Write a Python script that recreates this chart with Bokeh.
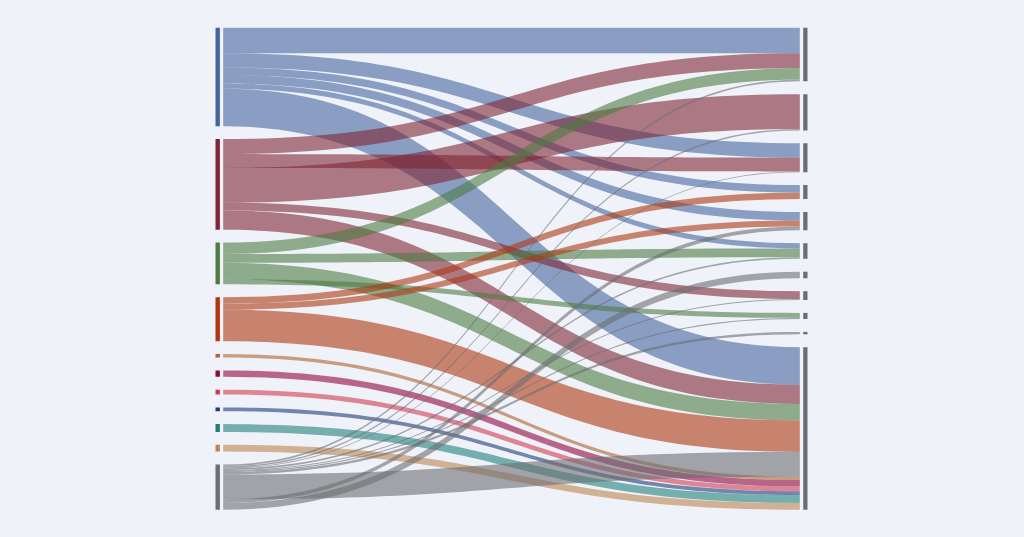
import numpy as np
from bokeh.models import ColumnDataSource, Range1d
from bokeh.plotting import figure
from bokeh.embed import file_html
from bokeh.resources import INLINE

# source nodes (left column), top to bottom
sources = ["s1", "s2", "s3", "s4", "s5", "s6", "s7", "s8", "s9", "s10", "s11"]
source_colors = ["#45669d", "#7e2634", "#4d7c42", "#ad3812", "#ad6230", "#93073f",
                 "#d03a52", "#203c78", "#22807a", "#bd8550", "#6d6e72"]
# target nodes (right column), top to bottom
targets = ["t1", "t2", "t3", "t4", "t5", "t6", "t7", "t8", "t9", "t10", "t11"]

# links, in the order they leave each source node
link_src = ["s1", "s1", "s1", "s1", "s1", "s1",
            "s2", "s2", "s2", "s2", "s2",
            "s3", "s3", "s3", "s3",
            "s4", "s4", "s4",
            "s5", "s6", "s7", "s8", "s9", "s10",
            "s11", "s11", "s11", "s11", "s11", "s11", "s11", "s11", "s11", "s11"]
link_tgt = ["t1", "t3", "t4", "t5", "t6", "t11",
            "t1", "t3", "t2", "t8", "t11",
            "t1", "t6", "t11", "t9",
            "t4", "t5", "t11",
            "t11", "t11", "t11", "t11", "t11", "t11",
            "t1", "t2", "t3", "t6", "t8", "t9", "t10", "t11", "t5", "t7"]
link_val = [25.4, 14.3, 7.5, 8.5, 5.2, 37.5,
            15.0, 13.8, 34.8, 7.8, 19.2,
            11.4, 8.8, 16.5, 5.0,
            6.5, 6.0, 31.5,
            3.4, 6.4, 4.8, 3.8, 7.8, 6.8,
            1.7, 1.4, 0.8, 1.6, 1.0, 1.1, 2.4, 24.8, 3.8, 6.6]
# order in which incoming links stack on each target node
arrival_order = ["s1", "s2", "s3", "s4", "s11", "s5", "s6", "s7", "s8", "s9", "s10"]

W, H = 1008, 521
pad = 12.9
top = 27.3
x_left_bar = (215.0, 219.4)
x_right_bar = (802.7, 807.0)
x0, x1 = 222.7, 799.3

def stack(names, totals):
    pos, y = {}, 0.0
    for n in names:
        pos[n] = y
        y += totals[n] + pad
    return pos

src_tot = {n: 0.0 for n in sources}
tgt_tot = {n: 0.0 for n in targets}
for s, t, v in zip(link_src, link_tgt, link_val):
    src_tot[s] += v
    tgt_tot[t] += v
src_pos = stack(sources, src_tot)
tgt_pos = stack(targets, tgt_tot)

# offsets at source: list order
src_off = dict(src_pos)
y_start = []
for s, v in zip(link_src, link_val):
    y_start.append(src_off[s])
    src_off[s] += v
# offsets at target: arrival order
y_end = [0.0] * len(link_val)
tgt_off = dict(tgt_pos)
idx = sorted(range(len(link_val)), key=lambda i: arrival_order.index(link_src[i]))
for i in idx:
    y_end[i] = tgt_off[link_tgt[i]]
    tgt_off[link_tgt[i]] += link_val[i]

t = np.linspace(0, 1, 60)
xm = (x0 + x1) / 2
bx = (1 - t) ** 3 * x0 + 3 * (1 - t) ** 2 * t * xm + 3 * (1 - t) * t ** 2 * xm + t ** 3 * x1
def curve(ya, yb):
    return (1 - t) ** 3 * ya + 3 * (1 - t) ** 2 * t * ya + 3 * (1 - t) * t ** 2 * yb + t ** 3 * yb

col = dict(zip(sources, source_colors))
xs, ys, cs = [], [], []
for s, v, ya, yb in zip(link_src, link_val, y_start, y_end):
    xs.append(list(bx) + list(bx[::-1]))
    ys.append(list(curve(ya, yb)) + list(curve(ya + v, yb + v)[::-1]))
    cs.append(col[s])

p = figure(width=W, height=H, output_backend="svg", toolbar_location=None,
           x_range=Range1d(0, W), y_range=Range1d(H - top, -top),
           min_border=0, background_fill_color="#eff2f9", border_fill_color="#eff2f9")
p.axis.visible = False
p.grid.visible = False
p.outline_line_color = None

p.patches(xs="xs", ys="ys", fill_color="c", fill_alpha=0.6, line_color=None,
          source=ColumnDataSource(dict(xs=xs, ys=ys, c=cs)))

p.quad(left=x_left_bar[0], right=x_left_bar[1],
       top=[src_pos[n] for n in sources],
       bottom=[src_pos[n] + src_tot[n] for n in sources],
       fill_color=source_colors, line_color=None)
p.quad(left=x_right_bar[0], right=x_right_bar[1],
       top=[tgt_pos[n] for n in targets],
       bottom=[tgt_pos[n] + tgt_tot[n] for n in targets],
       fill_color="#6d6d6d", line_color=None)

html = file_html(p, INLINE)
html = html.replace("</head>", "<style>body{background:#eff2f9;}</style></head>")
open("out.html", "w").write(html)
